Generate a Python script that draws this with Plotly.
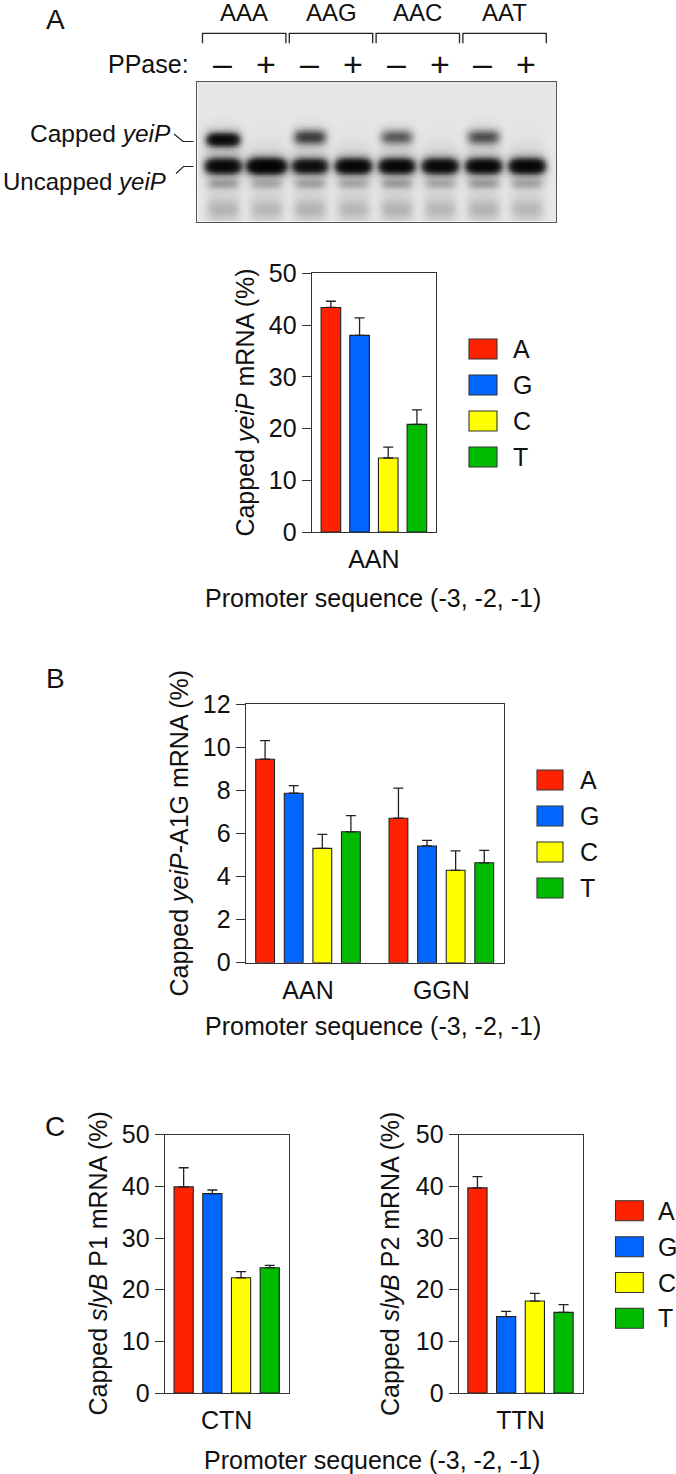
import numpy as np
import plotly.graph_objects as go

W, H = 676, 1474
FONT = "Liberation Sans, Arial, Helvetica, sans-serif"

# ---------------- data ----------------
gel_groups = ["AAA", "AAG", "AAC", "AAT"]
ppase_signs = ["–", "+", "–", "+", "–", "+", "–", "+"]
# band darkness per lane
capped_band = [0.95, 0.0, 0.42, 0.0, 0.30, 0.0, 0.34, 0.0]
uncapped_band = [1.05, 1.30, 0.90, 1.10, 1.05, 1.05, 1.05, 1.10]
minor_band = [0.12, 0.09, 0.11, 0.09, 0.12, 0.09, 0.12, 0.10]
low_smear = [0.08, 0.07, 0.08, 0.07, 0.08, 0.07, 0.08, 0.07]

nts = ["A", "G", "C", "T"]
nt_colors = ["#FF2200", "#0066FF", "#FFFF00", "#00BB00"]

a_cats = ["AAN"]
a_mean = {"A": [43.4], "G": [38.0], "C": [14.3], "T": [20.8]}
a_err = {"A": [1.2], "G": [3.4], "C": [2.1], "T": [2.8]}

b_cats = ["AAN", "GGN"]
b_mean = {"A": [9.45, 6.71], "G": [7.87, 5.42], "C": [5.31, 4.29], "T": [6.08, 4.64]}
b_err = {"A": [0.86, 1.40], "G": [0.35, 0.26], "C": [0.65, 0.90], "T": [0.75, 0.58]}

c1_cats = ["CTN"]
c1_mean = {"A": [39.9], "G": [38.6], "C": [22.3], "T": [24.25]}
c1_err = {"A": [3.7], "G": [0.7], "C": [1.2], "T": [0.45]}

c2_cats = ["TTN"]
c2_mean = {"A": [39.7], "G": [14.8], "C": [17.8], "T": [15.6]}
c2_err = {"A": [2.2], "G": [1.0], "C": [1.5], "T": [1.5]}


def px(x):
    return x / W


def py(y):
    return 1 - y / H


fig = go.Figure()

# ---------------- gel ----------------
gx0, gx1, gy0, gy1 = 197.4, 556.0, 81.7, 221.7
lanes = [222.5 + 43.4 * i for i in range(8)]
xs = np.arange(gx0, gx1 + 1, 1.5)
ys = np.arange(gy0, gy1 + 1, 1.5)
X, Y = np.meshgrid(xs, ys)
S = np.full(X.shape, 0.025)
for i, cx in enumerate(lanes):
    def fx(wx):
        return np.exp(-((X - cx) / wx) ** 4)
    def fy(cy, wy):
        return np.exp(-((Y - cy) / wy) ** 2)
    cyc = 139 if i == 0 else 136.5
    S += capped_band[i] * fx(15) * fy(cyc, 5.6 if i == 0 else 6.5)
    S += 0.12 * capped_band[i] * fx(19) * fy(cyc, 11)
    uw = 18 if i == 1 else 16.5
    S += uncapped_band[i] * fx(uw) * fy(165.5, 6.4)
    S += 0.10 * uncapped_band[i] * fx(uw + 3) * fy(165.5, 12)
    S += minor_band[i] * fx(15) * fy(183, 4.8)
    S += low_smear[i] * fx(16) * fy(209, 10)
    S += 0.03 * fx(18) * fy(180, 42)
Z = 1 - np.exp(-3.0 * S)

fig.add_trace(go.Heatmap(
    x=xs, y=ys, z=Z, zmin=0, zmax=1, zsmooth="best",
    colorscale=[[0, "#f7f7f7"], [0.5, "#8a8a8a"], [1, "#000000"]],
    showscale=False, hoverinfo="skip", xaxis="x", yaxis="y"))

layout = dict(
    width=W, height=H, margin=dict(l=0, r=0, t=0, b=0, pad=0),
    autosize=False,
    paper_bgcolor="white", plot_bgcolor="rgba(0,0,0,0)",
    barmode="overlay", showlegend=False,
    font=dict(family=FONT, size=24, color="#111"),
)
layout["xaxis"] = dict(domain=[px(gx0), px(gx1)], range=[gx0, gx1], showgrid=False,
                       zeroline=False, showticklabels=False, ticks="",
                       showline=True, mirror=True, linecolor="#555", linewidth=1)
layout["yaxis"] = dict(domain=[py(gy1), py(gy0)], range=[gy1, gy0], showgrid=False,
                       zeroline=False, showticklabels=False, ticks="",
                       showline=True, mirror=True, linecolor="#555", linewidth=1)

# ---------------- bar panels ----------------
panels = [
    dict(n=2, x0=311.7, x1=436.0, y0=273.3, y1=532.0, ymax=50, dtick=10,
         cats=a_cats, mean=a_mean, err=a_err, gc=[373.9], u=100.0, slot=28.67, w=19.6),
    dict(n=3, x0=245.7, x1=504.0, y0=704.3, y1=962.7, ymax=12, dtick=2,
         cats=b_cats, mean=b_mean, err=b_err, gc=[308.0, 441.35], u=133.35, slot=28.6, w=18.8),
    dict(n=4, x0=164.7, x1=289.3, y0=1134.7, y1=1393.0, ymax=50, dtick=10,
         cats=c1_cats, mean=c1_mean, err=c1_err, gc=[226.7], u=100.0, slot=28.7, w=19.2),
    dict(n=5, x0=458.7, x1=582.7, y0=1134.7, y1=1393.0, ymax=50, dtick=10,
         cats=c2_cats, mean=c2_mean, err=c2_err, gc=[520.5], u=100.0, slot=28.7, w=19.2),
]

for p in panels:
    xa, ya = f"x{p['n']}", f"y{p['n']}"
    for k, nt in enumerate(nts):
        off = ((k - 1.5) * p["slot"] - p["w"] / 2) / p["u"]
        ncat = len(p["cats"])
        fig.add_trace(go.Bar(
            x=p["cats"], y=p["mean"][nt], name=nt,
            width=[p["w"] / p["u"]] * ncat, offset=[off] * ncat,
            marker=dict(color=nt_colors[k], line=dict(color="#222", width=1.1)),
            error_y=dict(type="data", array=p["err"][nt], arrayminus=[0] * ncat,
                         symmetric=False, color="#222", thickness=1.3, width=5),
            xaxis=xa, yaxis=ya, hoverinfo="skip"))
    layout[f"xaxis{p['n']}"] = dict(
        domain=[px(p["x0"]), px(p["x1"])], anchor=ya, type="category",
        range=[(p["x0"] - p["gc"][0]) / p["u"], (p["x1"] - p["gc"][0]) / p["u"]],
        showline=True, mirror=True, linecolor="#333", linewidth=1.3,
        ticks="", showgrid=False, zeroline=False, automargin=False,
        tickfont=dict(size=25, color="#111"), ticklabelstandoff=5)
    layout[f"yaxis{p['n']}"] = dict(
        domain=[py(p["y1"]), py(p["y0"])], anchor=xa, range=[0, p["ymax"]],
        tickmode="linear", tick0=0, dtick=p["dtick"], automargin=False,
        showline=True, mirror=True, linecolor="#333", linewidth=1.3,
        ticks="outside", ticklen=9, tickwidth=1.3, tickcolor="#333",
        showgrid=False, zeroline=False, tickfont=dict(size=25, color="#111"))

# pixel canvas for labels / decorations
fig.add_trace(go.Scatter(x=[], y=[], xaxis="x6", yaxis="y6", hoverinfo="skip"))
layout["xaxis6"] = dict(domain=[0, 1], range=[0, W], visible=False, anchor="y6", fixedrange=True)
layout["yaxis6"] = dict(domain=[0, 1], range=[H, 0], visible=False, anchor="x6", fixedrange=True)

ann = []
shapes = []


def text(x, y, s, size=24, xanchor="center", angle=0):
    ann.append(dict(x=x, y=y, xref="x6", yref="y6", text=s, showarrow=False,
                    xanchor=xanchor, yanchor="middle", textangle=angle, borderpad=0,
                    font=dict(size=size, family=FONT, color="#111")))


# panel letters
text(55, 19, "A", size=28)
text(55, 678, "B", size=28)
text(55, 1126, "C", size=28)

# gel header
for g, name in enumerate(gel_groups):
    c0, c1 = lanes[2 * g], lanes[2 * g + 1]
    text((c0 + c1) / 2, 12, name, size=24)
    shapes.append(dict(type="path", xref="x6", yref="y6",
                       path=f"M{c0-20},43.3 L{c0-20},33.3 L{c1+20},33.3 L{c1+20},43.3",
                       line=dict(color="#222", width=1.3)))
text(190, 64, "PPase:", size=25, xanchor="right")
for i, s in enumerate(ppase_signs):
    text(lanes[i], 64 if s == "+" else 63, s, size=34)

text(172, 133, "Capped <i>yeiP</i>", size=24.5, xanchor="right")
text(167, 181, "Uncapped <i>yeiP</i>", size=24, xanchor="right")
shapes.append(dict(type="path", xref="x6", yref="y6",
                   path="M174,134 L183,141.5 L193.5,141.5", line=dict(color="#222", width=1.2)))
shapes.append(dict(type="path", xref="x6", yref="y6",
                   path="M176,173.5 L183.5,166.5 L193.5,166.5", line=dict(color="#222", width=1.2)))

# axis titles
text(245, 402.6, "Capped <i>yeiP</i> mRNA (%)", size=25, angle=-90)
text(373, 598, "Promoter sequence (-3, -2, -1)", size=25)
text(178, 833.5, "Capped <i>yeiP</i>-A1G mRNA (%)", size=25, angle=-90)
text(373, 1026, "Promoter sequence (-3, -2, -1)", size=25)
text(97.5, 1264, "Capped <i>slyB</i> P1 mRNA (%)", size=25, angle=-90)
text(390, 1264, "Capped <i>slyB</i> P2 mRNA (%)", size=25, angle=-90)
text(372, 1460, "Promoter sequence (-3, -2, -1)", size=25)

# legends
legends = [
    dict(x0=469, x1=497, tx=512, rows=[349, 385, 421, 457]),
    dict(x0=537, x1=563, tx=579, rows=[780, 816, 852, 888]),
    dict(x0=615.5, x1=643.3, tx=657, rows=[1210.7, 1246.7, 1282.5, 1318.3]),
]
for lg in legends:
    for k, nt in enumerate(nts):
        cy = lg["rows"][k]
        shapes.append(dict(type="rect", xref="x6", yref="y6",
                           x0=lg["x0"], x1=lg["x1"], y0=cy - 10, y1=cy + 10,
                           fillcolor=nt_colors[k], line=dict(color="#333", width=1.1)))
        text(lg["tx"], cy, nt, size=25, xanchor="left")

layout["annotations"] = ann
layout["shapes"] = shapes
fig.update_layout(**layout)
fig.write_html("out.html", config={"displayModeBar": False, "responsive": False},
               post_script="document.body.style.margin='0px';document.body.style.overflow='hidden';")
